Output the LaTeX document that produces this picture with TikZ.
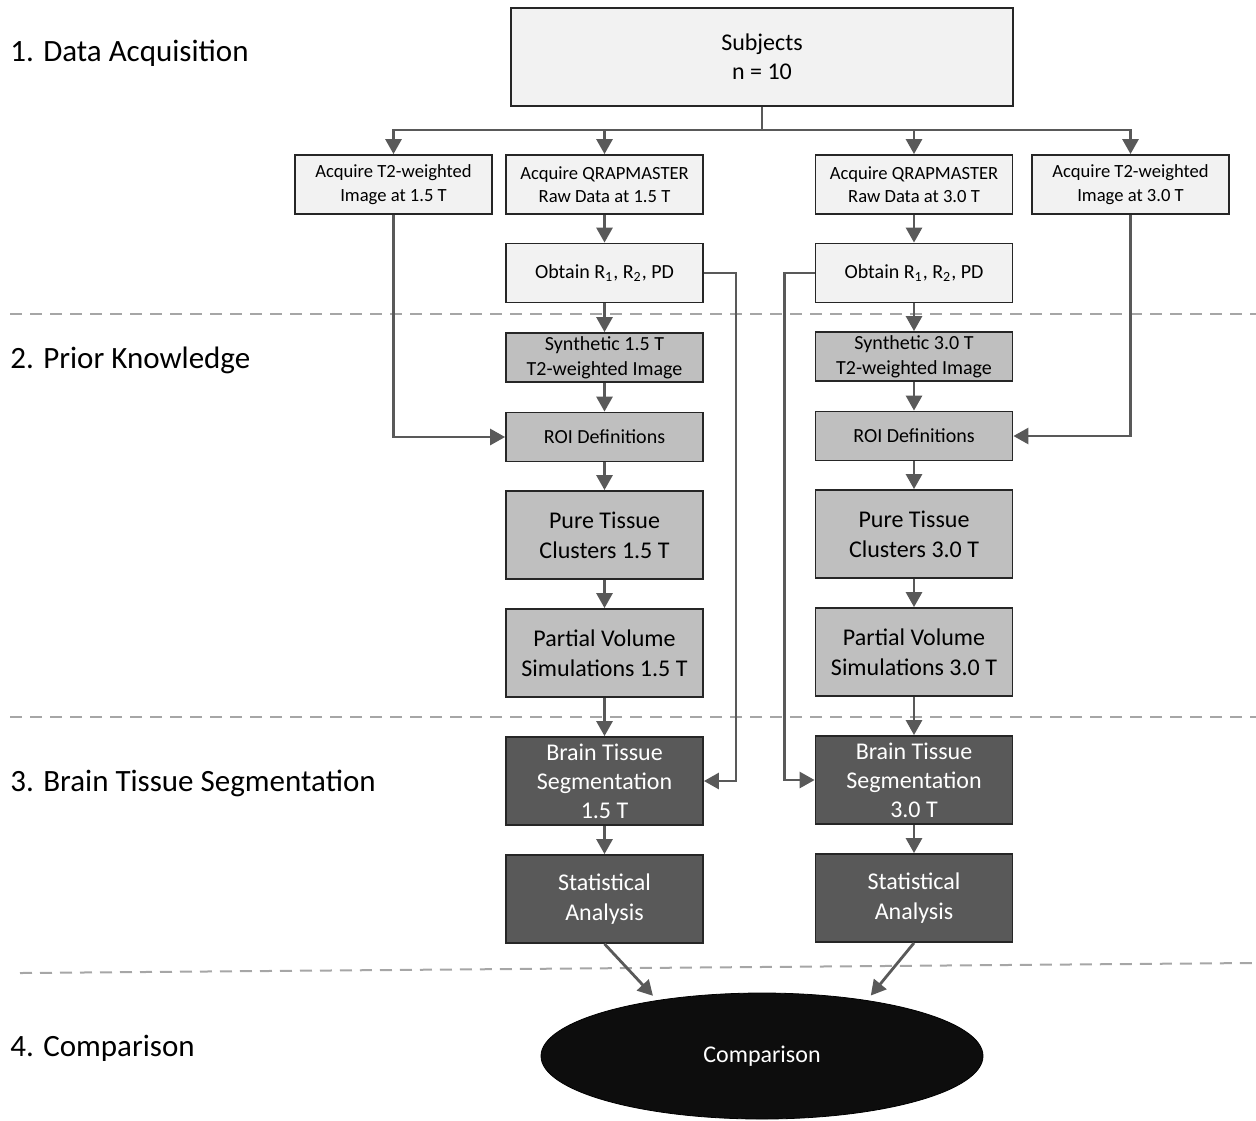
\documentclass[tikz,border=0pt]{standalone}
\usepackage{fontspec}
\setmainfont{Carlito}
\usetikzlibrary{positioning, shapes.geometric, arrows.meta}

\definecolor{linegray}{HTML}{595959}
\definecolor{lightfill}{HTML}{F2F2F2}
\definecolor{midfill}{HTML}{BFBFBF}
\definecolor{darkfill}{HTML}{595959}
\definecolor{dashgray}{HTML}{A6A6A6}

\begin{document}
\begin{tikzpicture}[x=0.5pt, y=-0.5pt,
	box/.style={draw=black!85, line width=0.9pt, minimum width=98.5pt, inner sep=0pt, align=center},
	lightbox/.style={box, fill=lightfill, minimum height=29.5pt, font=\fontsize{9.3}{11.8}\selectfont},
	midbox/.style={box, fill=midfill, minimum height=24.5pt, font=\fontsize{10}{12.5}\selectfont},
	bigbox/.style={box, fill=midfill, minimum height=44pt, font=\fontsize{12}{15}\selectfont},
	darkbox/.style={box, fill=darkfill, text=white, minimum height=44pt, font=\fontsize{12}{14.5}\selectfont},
	arr/.style={-{Triangle[length=7.5pt, width=8pt]}, draw=linegray, line width=1.4pt},
	link/.style={draw=linegray, line width=1.4pt},
	sep/.style={draw=dashgray, line width=1pt, dash pattern=on 6pt off 4pt},
	stage/.style={anchor=west, font=\fontsize{15.5}{18}\selectfont, inner sep=0pt}]
	\useasboundingbox (0,0) rectangle (1256,1120);

	% stage labels
	\node[stage] (st1) at (10, 53) {1. Data Acquisition};
	\node[stage] (st2) at (10, 360) {2. Prior Knowledge};
	\node[stage] (st3) at (10, 783) {3. Brain Tissue Segmentation};
	\node[stage] (st4) at (10, 1048) {4. Comparison};

	% separators
	\draw[sep] (10, 314) -- (1256, 314);
	\draw[sep] (10, 717) -- (1256, 717);
	\draw[sep] (20, 973) -- (1252, 963);

	% top
	\node[box, fill=lightfill, minimum width=251pt, minimum height=49pt, font=\fontsize{12}{14.5}\selectfont] (subj) at (762, 57) {Subjects\\n = 10};
	\node[lightbox] (t15) at (393.5, 184.5) {Acquire T2-weighted\\Image at 1.5 T};
	\node[lightbox] (q15) at (604.5, 184.5) {Acquire QRAPMASTER\\Raw Data at 1.5 T};
	\node[lightbox] (q30) at (914, 184.5) {Acquire QRAPMASTER\\Raw Data at 3.0 T};
	\node[lightbox] (t30) at (1130.5, 184.5) {Acquire T2-weighted\\Image at 3.0 T};

	% 1.5 T column
	\node[lightbox, font=\fontsize{10}{12}\selectfont] (o15) at (604.5, 273) {Obtain R\textsubscript{1}, R\textsubscript{2}, PD};
	\node[midbox] (syn15) at (604.5, 357.5) {Synthetic 1.5 T\\T2-weighted Image};
	\node[midbox] (roi15) at (604.5, 437) {ROI Definitions};
	\node[bigbox] (pt15) at (604.5, 535) {Pure Tissue\\Clusters 1.5 T};
	\node[bigbox] (pv15) at (604.5, 653) {Partial Volume\\Simulations 1.5 T};
	\node[darkbox] (bt15) at (604.5, 781) {Brain Tissue\\Segmentation\\1.5 T};
	\node[darkbox, font=\fontsize{12}{15}\selectfont] (sa15) at (604.5, 899) {Statistical\\Analysis};

	% 3.0 T column
	\node[lightbox, font=\fontsize{10}{12}\selectfont] (o30) at (914, 273) {Obtain R\textsubscript{1}, R\textsubscript{2}, PD};
	\node[midbox] (syn30) at (914, 356.5) {Synthetic 3.0 T\\T2-weighted Image};
	\node[midbox] (roi30) at (914, 436) {ROI Definitions};
	\node[bigbox] (pt30) at (914, 534) {Pure Tissue\\Clusters 3.0 T};
	\node[bigbox] (pv30) at (914, 652) {Partial Volume\\Simulations 3.0 T};
	\node[darkbox] (bt30) at (914, 780) {Brain Tissue\\Segmentation\\3.0 T};
	\node[darkbox, font=\fontsize{12}{15}\selectfont] (sa30) at (914, 898) {Statistical\\Analysis};

	\node[ellipse, fill=black!95, draw=black, text=white, minimum width=221pt, minimum height=63pt, font=\fontsize{12}{14}\selectfont] (cmp) at (762, 1056) {Comparison};

	% bus
	\coordinate (bus) at (762, 130);
	\draw[link] (subj.south) -- (bus);
	\draw[arr] (bus) -| (t15.north);
	\draw[arr] (bus) -| (q15.north);
	\draw[arr] (bus) -| (q30.north);
	\draw[arr] (bus) -| (t30.north);

	% columns
	\draw[arr] (q15) -- (o15);
	\draw[arr] (o15) -- (syn15);
	\draw[arr] (syn15) -- (roi15);
	\draw[arr] (roi15) -- (pt15);
	\draw[arr] (pt15) -- (pv15);
	\draw[arr] (pv15) -- (bt15);
	\draw[arr] (bt15) -- (sa15);
	\draw[arr] (q30) -- (o30);
	\draw[arr] (o30) -- (syn30);
	\draw[arr] (syn30) -- (roi30);
	\draw[arr] (roi30) -- (pt30);
	\draw[arr] (pt30) -- (pv30);
	\draw[arr] (pv30) -- (bt30);
	\draw[arr] (bt30) -- (sa30);

	% side links
	\draw[arr] (t15.south) |- (roi15.west);
	\draw[arr] (t30.south) |- (roi30.east);
	\draw[arr] (o15.east) -- ++(32, 0) |- (bt15.east);
	\draw[arr] (o30.west) -- ++(-30, 0) |- (bt30.west);

	% to comparison
	\draw[arr, shorten >=3pt] (sa15.south) -- (cmp.152);
	\draw[arr, shorten >=3pt] (sa30.south) -- (cmp.28);
\end{tikzpicture}
\end{document}
